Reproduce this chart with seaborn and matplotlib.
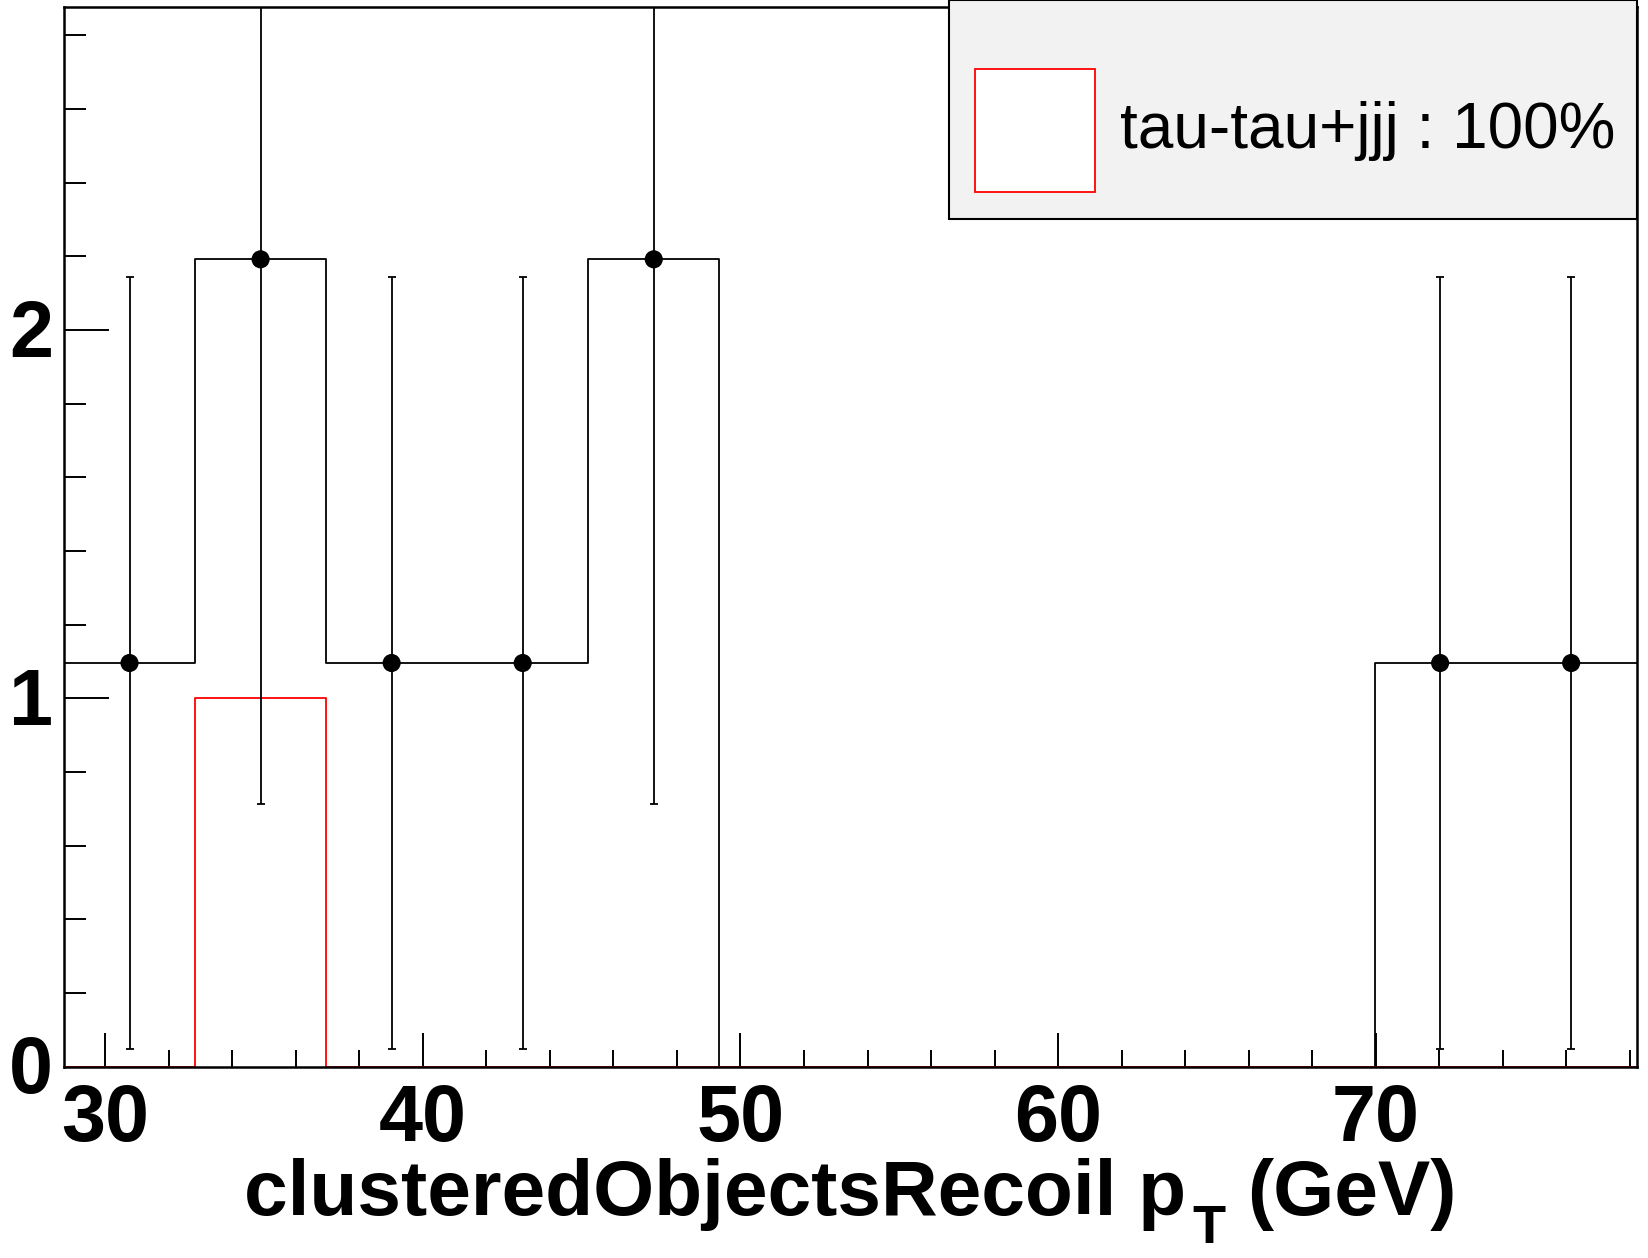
import numpy as np
import pandas as pd
import matplotlib
matplotlib.use("Agg")
import matplotlib.pyplot as plt
import seaborn as sns
from matplotlib.patches import Rectangle
from matplotlib.transforms import ScaledTranslation

# ---- data ----
x_min, x_max = 28.71, 78.21
n_bins = 12
data_values = [1.096, 2.192, 1.096, 1.096, 2.192, 0, 0, 0, 0, 0, 1.096, 1.096]
data_errors = [1.047, 1.480, 1.047, 1.047, 1.480, 0, 0, 0, 0, 0, 1.047, 1.047]
mc_values = [0, 1.0, 0, 0, 0, 0, 0, 0, 0, 0, 0, 0]
legend_label = "tau-tau+jjj : 100%"
x_label_main = "clusteredObjectsRecoil p"
x_label_sub = "T"
x_label_tail = "(GeV)"
y_max = 2.877

edges = np.linspace(x_min, x_max, n_bins + 1)
centers = 0.5 * (edges[:-1] + edges[1:])
bw = (x_max - x_min) / n_bins
df = pd.DataFrame({"x": centers, "data": data_values, "mc": mc_values, "err": data_errors})

sns.set_style("white")
plt.rcParams['font.family'] = ['Liberation Sans', 'DejaVu Sans']
for k in ['text.color', 'axes.labelcolor', 'xtick.color', 'ytick.color', 'axes.edgecolor']:
    plt.rcParams[k] = 'black'

W, H = 1649, 1258
fig = plt.figure(figsize=(W/100, H/100), dpi=100)
ax = fig.add_axes([64/W, 1 - 1066.7/H, (1636.7-64)/W, (1066.7-7)/H])

# black data histogram (step)
sns.histplot(data=df, x="x", weights="data", binwidth=bw, binrange=(x_min, x_max),
             element="step", fill=False, color="black", linewidth=1.3, ax=ax)
# red MC histogram
sns.histplot(data=df, x="x", weights="mc", binwidth=bw, binrange=(x_min, x_max),
             element="step", fill=False, color="red", linewidth=1.3, ax=ax)

# data points with error bars (non-empty bins only)
pts = df[df["data"] > 0]
ax.errorbar(pts["x"], pts["data"], yerr=pts["err"], fmt='none', ecolor='black',
            elinewidth=1.3, capsize=3, capthick=1.3, zorder=4)
sns.scatterplot(data=pts, x="x", y="data", color='black', s=170, marker='o',
                edgecolor='none', ax=ax, zorder=5)

ax.set_xlim(x_min, x_max)
ax.set_ylim(0, y_max)

ax.set_xticks([30, 40, 50, 60, 70])
ax.set_xticks(np.arange(30, 79, 2), minor=True)
ax.set_yticks([0, 1, 2])
ax.set_yticks(np.arange(0, 2.9, 0.2), minor=True)
ax.tick_params(axis='both', which='both', direction='in', top=False, right=False,
               bottom=True, left=True, width=1.4, color='black')
ax.tick_params(axis='x', which='major', length=24.5, pad=12)
ax.tick_params(axis='x', which='minor', length=12.2)
ax.tick_params(axis='y', which='major', length=32.4, pad=8)
ax.tick_params(axis='y', which='minor', length=16)
ax.set_ylabel("")
ax.set_xlabel("")
for lab in ax.get_xticklabels() + ax.get_yticklabels():
    lab.set_fontsize(57)
    lab.set_fontweight('bold')
    lab.set_color('black')
for lab in ax.get_yticklabels():
    lab.set_va('center')
    lab.set_transform(lab.get_transform() + ScaledTranslation(0, -6/100, fig.dpi_scale_trans))
for s in ax.spines.values():
    s.set_visible(True)
    s.set_color('black')
    s.set_linewidth(1.8)

# x-axis title built from pieces (ROOT-style low subscript)
renderer = fig.canvas.get_renderer()
t1 = fig.text(244/W, 1 - 1215/H, x_label_main, fontsize=56.5, fontweight='bold',
              ha='left', va='baseline')
bb1 = t1.get_window_extent(renderer)
t2 = fig.text((bb1.x1 + 6)/W, 1 - 1243/H, x_label_sub, fontsize=39, fontweight='bold',
              ha='left', va='baseline')
bb2 = t2.get_window_extent(renderer)
fig.text((bb2.x1 + 22)/W, 1 - 1215/H, x_label_tail, fontsize=56.5, fontweight='bold',
         ha='left', va='baseline')

# legend box (manual, ROOT style)
fig.patches.append(Rectangle((949/W, 1 - 219/H), (1637-949)/W, 219/H,
                             transform=fig.transFigure, facecolor='#f2f2f2',
                             edgecolor='black', linewidth=1.5, zorder=10))
fig.patches.append(Rectangle((975/W, 1 - 192/H), (1095-975)/W, (192-69)/H,
                             transform=fig.transFigure, facecolor='white',
                             edgecolor='red', linewidth=1.3, zorder=11))
fig.text(1120/W, 1 - 131/H, legend_label, fontsize=46, ha='left', va='center',
         zorder=12)

fig.savefig("out.png", dpi=100)
